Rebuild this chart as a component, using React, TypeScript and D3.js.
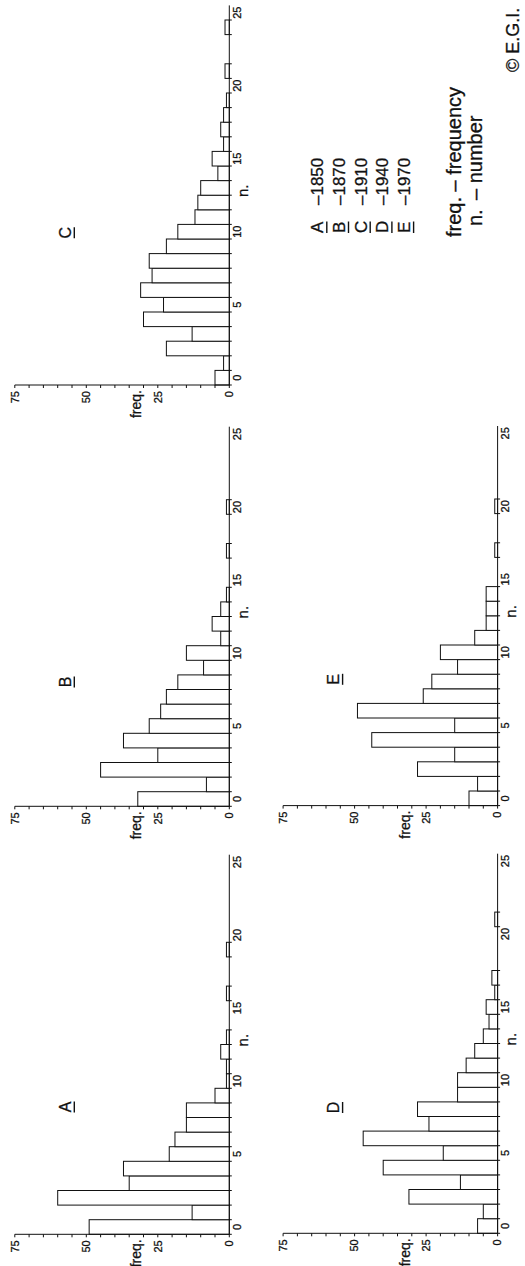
import React from "react";
import * as d3 from "d3";

// Frequencies by number n (index = n)
const freqA = [49, 13, 60, 35, 37, 21, 19, 15, 15, 5, 1, 1, 3, 1, 0, 0, 1, 0, 0, 1];
const freqB = [32, 8, 45, 25, 37, 28, 24, 22, 18, 9, 15, 3, 6, 3, 1, 0, 0, 1, 0, 0, 1];
const freqC = [5, 2, 22, 13, 30, 23, 31, 27, 28, 22, 18, 12, 11, 10, 4, 6, 2, 3, 2, 1, 0, 1.5, 0, 0, 1.5];
const freqD = [7, 5, 31, 13, 40, 19, 47, 24, 28, 14, 14, 11, 8, 5, 3, 4, 1, 2, 0, 0, 0, 1];
const freqE = [10, 7, 28, 15, 44, 15, 49, 26, 23, 14, 20, 8, 4, 4, 4, 0, 0, 1, 0, 0, 1];

const panelLetters = ["A", "B", "C", "D", "E"];
const panelYears = ["1850", "1870", "1910", "1940", "1970"];
const nTicks = [0, 5, 10, 15, 20, 25];
const freqTickLabels = [0, 25, 50, 75];

const W = 1266; // landscape width (page height)
const H = 525;
const FONT = "'Liberation Sans', Arial, Helvetica, sans-serif";
const INK = "#111";
const TXT = { fontFamily: FONT, fill: INK, stroke: INK, strokeWidth: 0.3 } as const;

type PanelProps = { data: number[]; x0: number; baseY: number; letter: string; letterDx: number };

function Panel({ data, x0, baseY, letter, letterDx }: PanelProps) {
  const unit = 14.6;
  const n = d3.scaleLinear().domain([0, 25]).range([x0, x0 + 25 * unit]);
  const f = d3.scaleLinear().domain([0, 75]).range([baseY, baseY - 214.5]);
  const axisX = n(-0.5);
  const fTicks = d3.range(0, 80, 5);
  const letterY = baseY - 158.5;
  const edgeSet = new Set<number>();
  data.forEach((v, i) => {
    if (v > 0) {
      edgeSet.add(i - 0.5);
      edgeSet.add(i + 0.5);
    }
  });
  const edges = Array.from(edgeSet);
  return (
    <g>
      {data.map((v, i) =>
        v > 0 ? (
          <rect
            key={i}
            x={n(i - 0.5)}
            width={n(i + 0.5) - n(i - 0.5)}
            y={f(v)}
            height={baseY - f(v)}
            fill="#fff"
            stroke={INK}
            strokeWidth={1}
          />
        ) : null
      )}
      {/* n axis */}
      <line x1={axisX} x2={n(25.5)} y1={baseY} y2={baseY} stroke={INK} strokeWidth={1} />
      {edges.map((e) => (
        <line key={e} x1={n(e)} x2={n(e)} y1={baseY} y2={baseY + 2.5} stroke={INK} strokeWidth={1} />
      ))}
      {nTicks.map((t) => (
        <text key={t} x={n(t)} y={baseY + 11.5} textAnchor="middle" fontSize={11} {...TXT}>
          {t}
        </text>
      ))}
      <text x={n(12.8)} y={baseY + 18.7} textAnchor="middle" fontSize={15} {...TXT}>
        n.
      </text>
      {/* freq axis */}
      <line x1={axisX} x2={axisX} y1={baseY} y2={f(75)} stroke={INK} strokeWidth={1} />
      {fTicks.map((t) => (
        <line key={t} x1={axisX - 3} x2={axisX} y1={f(t)} y2={f(t)} stroke={INK} strokeWidth={1} />
      ))}
      {freqTickLabels.map((t) => (
        <text key={t} x={axisX - 6} y={f(t)} dy="0.35em" textAnchor="end" fontSize={11} {...TXT}>
          {t}
        </text>
      ))}
      <text x={axisX - 5} y={baseY - 88} textAnchor="end" fontSize={14} {...TXT}>
        freq.
      </text>
      {/* panel letter */}
      <text x={x0 + letterDx} y={letterY} textAnchor="middle" fontSize={16} {...TXT}>
        {letter}
      </text>
      <line x1={x0 + letterDx - 5.5} x2={x0 + letterDx + 5.5} y1={letterY + 3.5} y2={letterY + 3.5} stroke={INK} strokeWidth={1.4} />
    </g>
  );
}

export default function App() {
  const datasets = [freqA, freqB, freqC, freqD, freqE];
  const origins = [
    { x0: 39, baseY: 229.3, dx: 120 },
    { x0: 467, baseY: 229.3, dx: 117 },
    { x0: 888.3, baseY: 229.3, dx: 145 },
    { x0: 40, baseY: 497.6, dx: 118.5 },
    { x0: 467.7, baseY: 497.6, dx: 119 },
  ];
  const legendX = 1033;
  const legendY0 = 323.3;
  const legendDy = 21.7;
  return (
    <div style={{ position: "absolute", left: 0, top: 0 }}>
      <svg width={H} height={W} style={{ display: "block", background: "#fff" }}>
        <g transform={`translate(0,${W}) rotate(-90)`}>
          {datasets.map((d, i) => (
            <Panel
              key={i}
              data={d}
              x0={origins[i].x0}
              baseY={origins[i].baseY}
              letter={panelLetters[i]}
              letterDx={origins[i].dx}
            />
          ))}
          {/* legend */}
          {panelLetters.map((l, i) => (
            <g key={l}>
              <text x={legendX} y={legendY0 + i * legendDy} fontSize={17} {...TXT}>
                {l}
              </text>
              <line
                x1={legendX}
                x2={legendX + 11.5}
                y1={legendY0 + i * legendDy + 3.5}
                y2={legendY0 + i * legendDy + 3.5}
                stroke={INK}
                strokeWidth={1.4}
              />
              <text x={legendX + 28} y={legendY0 + i * legendDy} fontSize={17} {...TXT}>
                {"–" + panelYears[i]}
              </text>
            </g>
          ))}
          <text x={1029} y={461} fontSize={20} {...TXT}>freq. – frequency</text>
          <text x={1040} y={482} fontSize={20} {...TXT}>n.</text>
          <text x={1066} y={482} fontSize={20} {...TXT}>– number</text>
          <text x={1194} y={519} fontSize={18} {...TXT}>© E.G.I.</text>
        </g>
      </svg>
    </div>
  );
}
